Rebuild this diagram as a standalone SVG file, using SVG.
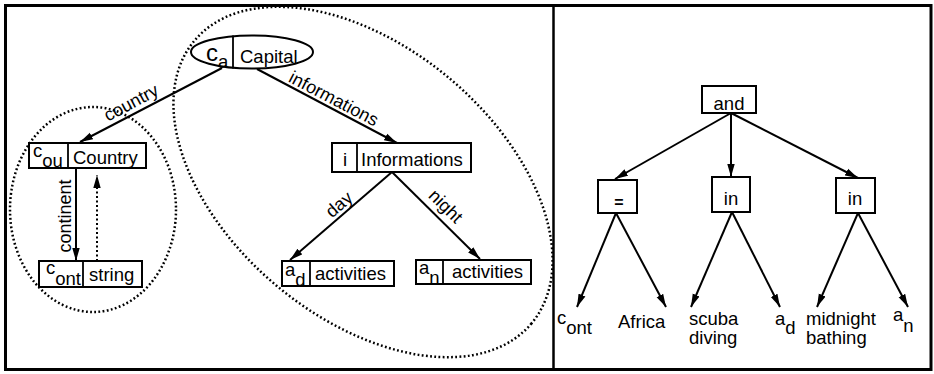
<svg xmlns="http://www.w3.org/2000/svg" width="934" height="374" viewBox="0 0 934 374">
<defs>
<marker id="ah" markerUnits="userSpaceOnUse" markerWidth="13" markerHeight="9" refX="13" refY="4.5" orient="auto">
<path d="M0,0.8 L13,4.5 L0,8.2 z" fill="#000"/>
</marker>
<style>
text{font-family:"Liberation Sans",Arial,Helvetica,sans-serif;font-size:18.5px;fill:#000}
.lbl{font-size:18px}
.box{fill:#fff;stroke:#000;stroke-width:2}
.sep{stroke:#000;stroke-width:1.8}
.edge{fill:none;stroke:#000;stroke-width:2;marker-end:url(#ah)}
.dash{stroke-dasharray:2 2.5}
.dot{fill:none;stroke:#000;stroke-width:2.5;stroke-dasharray:1.8 2.4}
.frame{fill:none;stroke:#000;stroke-width:3}
.mid{text-anchor:middle}
</style>
</defs>

<!-- outer frame and panel divider -->
<rect class="frame" x="5.5" y="5.5" width="925.5" height="364"/>
<line x1="553.5" y1="5.5" x2="553.5" y2="369.5" stroke="#000" stroke-width="2.5"/>

<!-- dotted groupings -->
<g id="groupings">
<ellipse class="dot" cx="93" cy="209.5" rx="83" ry="102.5"/>
<ellipse class="dot" cx="363" cy="182" rx="220" ry="135" transform="rotate(40 363 182)"/>
</g>

<!-- connectors -->
<g id="connectors">
<path class="edge" d="M222,68 L80,142"/>
<path class="edge" d="M257,69 L397,143"/>
<path class="edge" d="M76,168 L76,261"/>
<path class="edge dash" d="M97,261 L97,175"/>
<path class="edge" d="M392,172 L290,260"/>
<path class="edge" d="M392,172 L480,259"/>
<path class="edge" d="M731,113 L615,179"/>
<path class="edge" d="M731,113 L731,177"/>
<path class="edge" d="M731,113 L858,178"/>
<path class="edge" d="M616,213 L577,307"/>
<path class="edge" d="M616,213 L666,307"/>
<path class="edge" d="M732,212 L691,307"/>
<path class="edge" d="M732,212 L780,307"/>
<path class="edge" d="M858,213 L817,307"/>
<path class="edge" d="M858,213 L908,307"/>
<text class="lbl mid" transform="translate(134,108) rotate(-28)">country</text>
<text class="lbl mid" transform="translate(331,104) rotate(27.5)">informations</text>
<text class="lbl mid" transform="translate(343,209) rotate(-40.8)">day</text>
<text class="lbl mid" transform="translate(441.5,210.5) rotate(44.3)">night</text>
<text class="lbl mid" transform="translate(71,216) rotate(-90)">continent</text>
</g>

<!-- left panel nodes -->
<g id="capital">
<ellipse class="box" cx="252" cy="52" rx="61" ry="16.5"/>
<line class="sep" x1="233" y1="35.5" x2="233" y2="68.5"/>
<text x="206" y="61"><tspan style="font-size:24px">c</tspan><tspan dy="7">a</tspan></text>
<text x="240" y="63">Capital</text>
</g>

<g id="country">
<rect class="box" x="29" y="143" width="117" height="25"/>
<line class="sep" x1="68" y1="143" x2="68" y2="168"/>
<text x="33" y="157">c<tspan dy="10">ou</tspan></text>
<text x="73" y="164">Country</text>
</g>

<g id="string">
<rect class="box" x="39" y="261" width="103" height="26"/>
<line class="sep" x1="83" y1="261" x2="83" y2="287"/>
<text x="46" y="274">c<tspan dy="11">ont</tspan></text>
<text x="89" y="281">string</text>
</g>

<g id="informations">
<rect class="box" x="332" y="143" width="139" height="29"/>
<line class="sep" x1="357" y1="143" x2="357" y2="172"/>
<text class="mid" x="345" y="166">i</text>
<text x="361" y="166">Informations</text>
</g>

<g id="day-activities">
<rect class="box" x="282" y="261" width="112" height="25"/>
<line class="sep" x1="310" y1="261" x2="310" y2="286"/>
<text x="285" y="276">a<tspan dy="10">d</tspan></text>
<text x="315" y="280">activities</text>
</g>

<g id="night-activities">
<rect class="box" x="416" y="260" width="115" height="24"/>
<line class="sep" x1="443" y1="260" x2="443" y2="284"/>
<text x="419" y="274">a<tspan dy="10">n</tspan></text>
<text x="452" y="278">activities</text>
</g>

<!-- right panel: condition tree -->
<g id="and">
<rect class="box" x="702" y="86" width="54" height="27"/>
<text class="mid" x="729" y="110">and</text>
</g>
<g id="eq">
<rect class="box" x="598" y="180" width="39" height="33"/>
<text class="mid" x="619" y="208" style="font-weight:bold;font-size:16px">=</text>
</g>
<g id="in-day">
<rect class="box" x="712" y="177" width="38" height="35"/>
<text class="mid" x="731" y="205">in</text>
</g>
<g id="in-night">
<rect class="box" x="836" y="178" width="39" height="35"/>
<text class="mid" x="855" y="205">in</text>
</g>

<g id="leaf-cont"><text x="557" y="324">c<tspan dy="10">ont</tspan></text></g>
<g id="leaf-africa"><text x="618" y="328">Africa</text></g>
<g id="leaf-scuba"><text x="689" y="325">scuba</text><text x="689" y="344">diving</text></g>
<g id="leaf-ad"><text x="775" y="325">a<tspan dy="9">d</tspan></text></g>
<g id="leaf-midnight"><text x="806" y="325">midnight</text><text x="806" y="344">bathing</text></g>
<g id="leaf-an"><text x="893" y="321">a<tspan dy="11">n</tspan></text></g>
</svg>
